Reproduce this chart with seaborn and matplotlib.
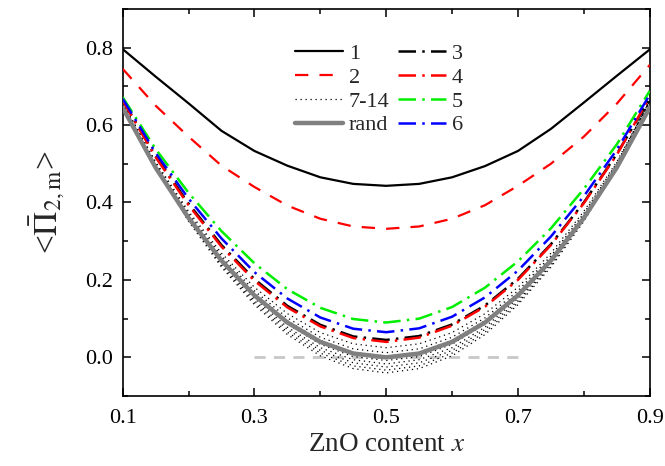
import matplotlib
matplotlib.use("Agg")
import matplotlib.pyplot as plt
import seaborn as sns
import numpy as np
import pandas as pd
from matplotlib.ticker import MultipleLocator, FixedLocator

# ---------------- data ----------------
x = [0.10, 0.15, 0.20, 0.25, 0.30, 0.35, 0.40, 0.45, 0.50,
     0.55, 0.60, 0.65, 0.70, 0.75, 0.80, 0.85, 0.90]

c1 = [0.796, 0.725, 0.656, 0.585, 0.533, 0.495, 0.465, 0.448, 0.443,
      0.448, 0.465, 0.494, 0.533, 0.590, 0.658, 0.727, 0.795]
c2 = [0.745, 0.650, 0.570, 0.495, 0.440, 0.392, 0.358, 0.338, 0.332,
      0.338, 0.358, 0.393, 0.443, 0.500, 0.570, 0.655, 0.755]
c3 = [0.664, 0.520, 0.397, 0.290, 0.202, 0.133, 0.084, 0.054, 0.045,
      0.055, 0.085, 0.134, 0.203, 0.292, 0.400, 0.525, 0.668]
c4 = [0.663, 0.517, 0.393, 0.286, 0.198, 0.129, 0.080, 0.050, 0.040,
      0.051, 0.082, 0.131, 0.200, 0.290, 0.398, 0.523, 0.672]
c5 = [0.672, 0.538, 0.425, 0.326, 0.243, 0.176, 0.128, 0.099, 0.090,
      0.100, 0.130, 0.180, 0.248, 0.333, 0.435, 0.550, 0.688]
c6 = [0.668, 0.528, 0.410, 0.307, 0.220, 0.152, 0.103, 0.074, 0.065,
      0.075, 0.105, 0.155, 0.224, 0.312, 0.416, 0.536, 0.678]
rand = [0.645, 0.490, 0.360, 0.250, 0.160, 0.090, 0.040, 0.010, 0.000,
        0.010, 0.040, 0.090, 0.160, 0.250, 0.360, 0.490, 0.645]
c7 = [0.657, 0.505, 0.377, 0.269, 0.181, 0.113, 0.064, 0.035, 0.025,
      0.035, 0.064, 0.113, 0.181, 0.269, 0.377, 0.505, 0.662]
c8 = [0.657, 0.502, 0.372, 0.262, 0.172, 0.102, 0.052, 0.022, 0.012,
      0.022, 0.052, 0.102, 0.172, 0.262, 0.372, 0.502, 0.662]
c9 = [0.657, 0.500, 0.368, 0.257, 0.166, 0.095, 0.044, 0.013, 0.003,
      0.013, 0.044, 0.095, 0.166, 0.257, 0.368, 0.500, 0.662]
c10 = [0.657, 0.498, 0.364, 0.251, 0.158, 0.086, 0.034, 0.002, -0.008,
       0.002, 0.034, 0.086, 0.158, 0.251, 0.364, 0.498, 0.662]
c11 = [0.657, 0.496, 0.360, 0.246, 0.152, 0.078, 0.025, -0.006, -0.017,
       -0.006, 0.025, 0.078, 0.152, 0.246, 0.360, 0.496, 0.662]
c12 = [0.657, 0.495, 0.357, 0.242, 0.146, 0.072, 0.018, -0.014, -0.025,
       -0.014, 0.018, 0.072, 0.146, 0.242, 0.357, 0.495, 0.662]
c13 = [0.657, 0.493, 0.354, 0.237, 0.141, 0.065, 0.011, -0.022, -0.033,
       -0.022, 0.011, 0.065, 0.141, 0.237, 0.354, 0.493, 0.662]
c14 = [0.657, 0.492, 0.351, 0.233, 0.136, 0.059, 0.004, -0.029, -0.040,
       -0.029, 0.004, 0.059, 0.136, 0.233, 0.351, 0.492, 0.662]
dotted_series = [c7, c8, c9, c10, c11, c12, c13, c14]

ref_x = [0.3, 0.7]
ref_y = [0.0, 0.0]

xticks = [0.1, 0.3, 0.5, 0.7, 0.9]
yticks = [0.0, 0.2, 0.4, 0.6, 0.8]

# ---------------- style ----------------
sns.set_style("ticks")
plt.rcParams["font.family"] = ["Liberation Serif", "DejaVu Serif"]
plt.rcParams["mathtext.fontset"] = "stix"

fig = plt.figure(figsize=(6.65, 4.66), dpi=100)
ax = fig.add_axes([0.1845, 0.150, 0.7925, 0.831])

DD = (0, (7, 2.5, 1.0, 2.5))

# grey reference dashed line at 0
sns.lineplot(x=ref_x, y=ref_y, ax=ax, color="#c8c8c8", lw=2.0,
             linestyle=(0, (4, 3)), zorder=1)

# dotted group 7-14
for i, s in enumerate(dotted_series):
    sns.lineplot(x=x, y=s, ax=ax, color="black", lw=0.9,
                 linestyle=(0, (1, 3)), zorder=2,
                 label="7-14" if i == 0 else None)

sns.lineplot(x=x, y=rand, ax=ax, color="#808080", lw=3.2, zorder=3, label="rand")
sns.lineplot(x=x, y=c1, ax=ax, color="black", lw=1.6, zorder=4, label="1")
sns.lineplot(x=x, y=c2, ax=ax, color="#ff0000", lw=1.6,
             linestyle=(0, (6, 5)), zorder=4, label="2")
sns.lineplot(x=x, y=c3, ax=ax, color="black", lw=1.8, linestyle=DD, zorder=4, label="3")
sns.lineplot(x=x, y=c4, ax=ax, color="#ff0000", lw=1.8, linestyle=DD, zorder=4, label="4")
sns.lineplot(x=x, y=c5, ax=ax, color="#00ee00", lw=1.8, linestyle=DD, zorder=4, label="5")
sns.lineplot(x=x, y=c6, ax=ax, color="#0000ff", lw=1.8, linestyle=DD, zorder=4, label="6")

ax.set_xlim(0.1, 0.9)
ax.set_ylim(-0.1, 0.9)
ax.xaxis.set_major_locator(FixedLocator(xticks))
ax.xaxis.set_minor_locator(MultipleLocator(0.1))
ax.yaxis.set_major_locator(FixedLocator(yticks))
ax.yaxis.set_minor_locator(MultipleLocator(0.1))
ax.set_xticklabels([f"{t:.1f}" for t in xticks])
ax.set_yticklabels([f"{t:.1f}" for t in yticks])
ax.tick_params(which="both", direction="in", top=True, right=True,
               width=1.1, colors="black", labelsize=16)
ax.tick_params(axis="x", which="both", pad=9)
ax.tick_params(axis="y", which="both", pad=7)
ax.tick_params(which="major", length=6)
ax.tick_params(which="minor", length=3.5)
for sp in ax.spines.values():
    sp.set_linewidth(1.2)
    sp.set_color("black")

ax.set_xlabel(r"ZnO content $x$", fontsize=19.5, labelpad=3)
ax.set_ylabel(r"<$\bar{\Pi}_{2,\mathrm{m}}$>", fontsize=24, labelpad=13)

# legend: column 1 = 1, 2, 7-14, rand ; column 2 = 3, 4, 5, 6
handles, labels = ax.get_legend_handles_labels()
hmap = dict(zip(labels, handles))
order = ["1", "2", "7-14", "rand", "3", "4", "5", "6"]
ax.legend([hmap[k] for k in order], order, ncol=2, frameon=False,
          loc="upper left", bbox_to_anchor=(0.305, 0.94), borderpad=0,
          fontsize=16, handlelength=2.2, handletextpad=0.25,
          labelspacing=0.15, columnspacing=0.35)

fig.savefig("out.png", dpi=100)
